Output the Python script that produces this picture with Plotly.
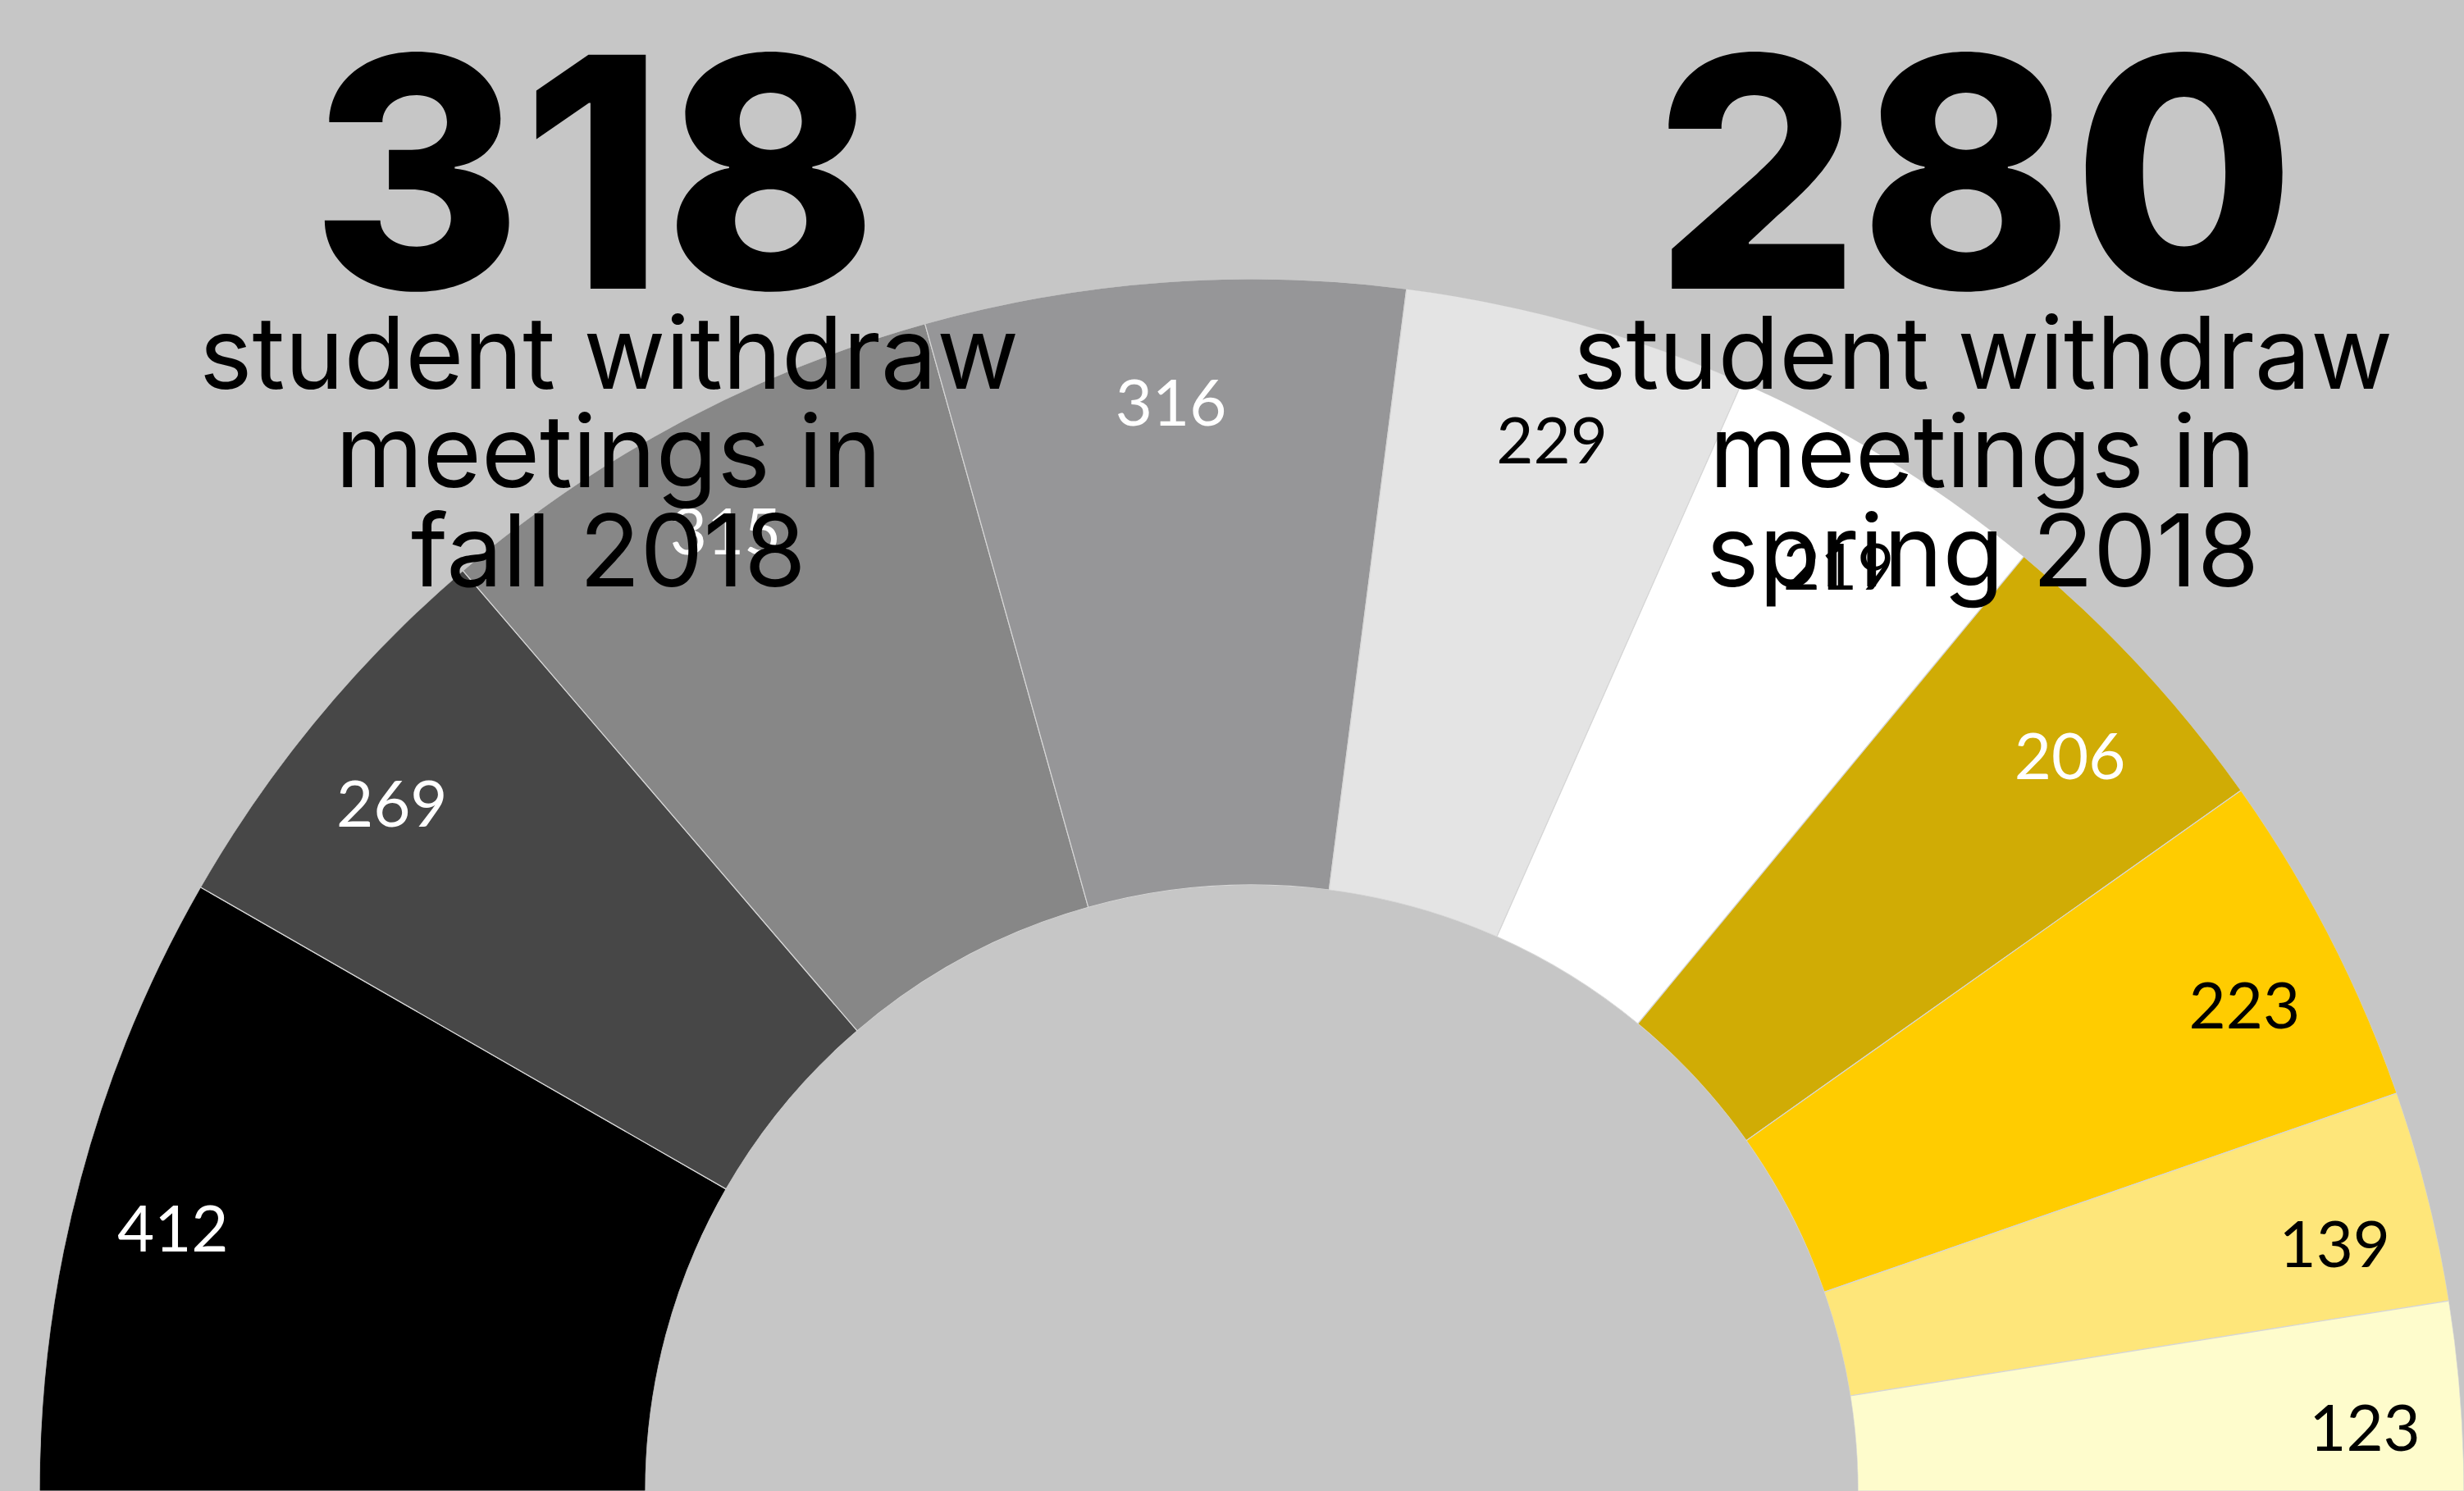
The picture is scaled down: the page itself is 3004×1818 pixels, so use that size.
import plotly.graph_objects as go

# ---- data ----
categories = ["seg1", "seg2", "seg3", "seg4", "seg5", "seg6", "seg7", "seg8", "seg9", "seg10"]
values = [412, 269, 315, 316, 229, 219, 206, 223, 139, 123]          # printed labels
slice_sizes = [407, 266, 340, 313, 225, 214, 206, 220, 138, 123]     # angular size
slice_colors = ["#000000", "#474747", "#878787", "#969698", "#e4e4e4",
                "#ffffff", "#d0ac05", "#ffcc00", "#fee67a", "#fefccc"]
label_colors = ["#ffffff", "#ffffff", "#ffffff", "#ffffff", "#000000",
                "#000000", "#ffffff", "#000000", "#000000", "#000000"]
headline_numbers = ["318", "280"]
headline_lines = [["student withdraw", "meetings in", "fall 2018"],
                  ["student withdraw", "meetings in", "spring 2018"]]

# ---- geometry of the half donut (degrees across a 180° sector) ----
total = sum(slice_sizes)
widths = [v / total * 180 for v in slice_sizes]
thetas = []
acc = 0.0
for w in widths:
    thetas.append(acc + w / 2)
    acc += w

W, H = 3004, 1818
BG = "#c6c6c6"
R = 1478          # outer radius in px
CX = 1526         # center x in px

fig = go.Figure()
fig.add_trace(go.Barpolar(
    r=[1] * len(slice_sizes), theta=thetas, width=widths,
    marker=dict(color=slice_colors, line=dict(color="#d6d6d6", width=1.2)),
    customdata=categories, hoverinfo="skip", showlegend=False,
))
fig.add_trace(go.Scatterpolar(
    r=[0.842] * len(values), theta=thetas, mode="text",
    text=[str(v) for v in values], textposition="bottom center",
    textfont=dict(family="Lato", size=78, color=label_colors),
    hoverinfo="skip", showlegend=False,
))

def px(x):
    return x / W

def py(y):
    return 1 - y / H

annotations = []
centers_x = [724, 2408]
for num, cx in zip(headline_numbers, centers_x):
    annotations.append(dict(
        text=num, x=px(cx), y=py(210), xref="paper", yref="paper",
        xanchor="center", yanchor="middle", showarrow=False,
        font=dict(family="Inter", size=392, color="#000000", weight=800),
    ))
sub_centers_x = [742, 2417]
line_centers_y = [429, 550, 671]
for lines, cx in zip(headline_lines, sub_centers_x):
    for line, cy in zip(lines, line_centers_y):
        annotations.append(dict(
            text=line, x=px(cx), y=py(cy), xref="paper", yref="paper",
            xanchor="center", yanchor="middle", showarrow=False,
            font=dict(family="Inter", size=122, color="#000000"),
        ))

fig.update_layout(
    width=W, height=H,
    margin=dict(l=0, r=0, t=0, b=0),
    paper_bgcolor=BG, plot_bgcolor=BG,
    showlegend=False,
    polar=dict(
        domain=dict(x=[(CX - R) / W, (CX + R) / W], y=[0, R / H]),
        sector=[0, 180], hole=0.5,
        bgcolor="rgba(0,0,0,0)",
        angularaxis=dict(direction="clockwise", rotation=180, visible=False,
                         showgrid=False, showline=False),
        radialaxis=dict(range=[0, 1], visible=False, showgrid=False, showline=False),
    ),
    annotations=annotations,
)

fig.write_html(
    "out.html",
    config={"displayModeBar": False},
    post_script="document.body.style.margin='0';document.body.style.overflow='hidden';",
)
